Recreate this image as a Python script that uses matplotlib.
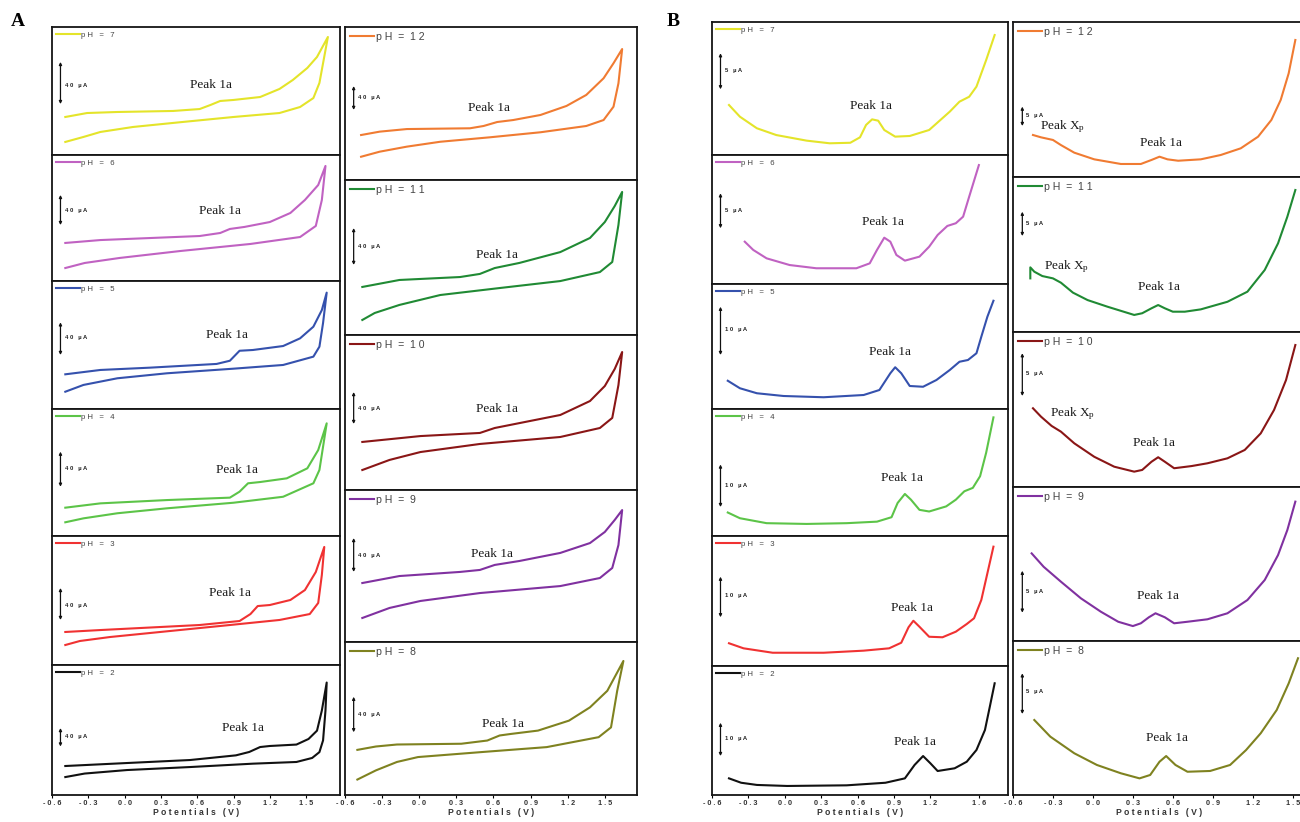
import matplotlib
matplotlib.use("Agg")
import matplotlib.pyplot as plt

W, H, DPI = 1300, 822, 100

# ------------------------------------------------------------------ data
# potential (V) and current (percent of each panel's vertical span)
# Panel A (cyclic voltammograms: forward branch then reverse branch)
A7_v = [-0.49, -0.31, -0.06, 0.40, 0.62, 0.71, 0.79, 0.90, 1.12, 1.28, 1.39, 1.51, 1.59, 1.68,
        1.61, 1.56, 1.45, 1.28, 0.90, 0.48, 0.07, -0.20, -0.34, -0.49]
A7_i = [29.7, 32.8, 33.6, 34.4, 35.9, 39.1, 42.2, 43.0, 45.3, 51.6, 58.6, 68.0, 76.6, 92.2,
        56.3, 44.5, 37.5, 32.8, 29.7, 25.8, 21.9, 18.0, 14.1, 10.2]
A6_v = [-0.49, -0.20, 0.21, 0.62, 0.79, 0.87, 0.99, 1.20, 1.37, 1.49, 1.60, 1.66,
        1.63, 1.58, 1.45, 1.04, 0.46, -0.04, -0.33, -0.49]
A6_i = [30.2, 32.5, 34.1, 35.7, 38.1, 41.3, 42.9, 46.8, 54.0, 64.3, 76.2, 91.3,
        64.3, 43.7, 34.9, 29.4, 23.8, 18.3, 14.3, 10.3]
A5_v = [-0.49, -0.20, 0.21, 0.76, 0.87, 0.95, 1.06, 1.31, 1.45, 1.56, 1.63, 1.67,
        1.64, 1.61, 1.56, 1.31, 0.90, 0.35, -0.06, -0.34, -0.49]
A5_i = [27.1, 30.5, 32.3, 35.2, 37.7, 45.5, 46.1, 49.2, 55.2, 64.3, 77.3, 90.9,
        67.2, 48.7, 40.9, 34.4, 31.5, 27.9, 24.0, 18.8, 13.5]
A4_v = [-0.49, -0.20, 0.35, 0.87, 0.95, 1.02, 1.12, 1.34, 1.51, 1.60, 1.67,
        1.64, 1.61, 1.56, 1.31, 0.90, 0.35, -0.06, -0.34, -0.49]
A4_i = [22.3, 25.7, 28.3, 30.2, 34.9, 41.5, 42.5, 45.4, 53.3, 67.7, 88.7,
        70.3, 52.0, 41.5, 30.9, 26.2, 21.8, 17.9, 13.9, 10.8]
A3_v = [-0.49, -0.20, 0.62, 0.95, 1.04, 1.10, 1.20, 1.37, 1.49, 1.58, 1.65,
        1.63, 1.60, 1.53, 1.28, 0.87, 0.38, -0.12, -0.37, -0.49]
A3_i = [25.6, 27.1, 31.0, 34.1, 39.5, 45.7, 46.5, 50.4, 58.1, 72.1, 91.5,
        69.8, 48.1, 39.5, 34.9, 31.0, 26.4, 21.7, 18.6, 15.5]
A2_v = [-0.49, 0.02, 0.54, 0.92, 1.03, 1.12, 1.20, 1.42, 1.52, 1.59, 1.63, 1.67,
        1.66, 1.64, 1.61, 1.55, 1.42, 1.06, 0.54, 0.02, -0.33, -0.49]
A2_i = [22.3, 24.6, 26.9, 30.5, 33.1, 36.9, 37.7, 38.8, 43.1, 49.5, 65.0, 86.5,
        65.0, 42.0, 33.0, 28.5, 25.4, 24.1, 21.5, 19.2, 16.5, 13.8]
A12_v = [-0.47, -0.32, -0.10, 0.41, 0.52, 0.63, 0.76, 0.98, 1.19, 1.35, 1.49, 1.57, 1.64,
         1.61, 1.57, 1.49, 1.35, 0.98, 0.57, 0.17, -0.10, -0.32, -0.47]
A12_i = [29.4, 31.6, 33.3, 33.8, 35.3, 37.9, 39.2, 42.5, 48.4, 55.6, 66.5, 76.3, 85.6,
         63.2, 47.9, 39.2, 35.3, 31.2, 27.9, 25.0, 21.8, 18.5, 15.2]
A11_v = [-0.46, -0.16, 0.33, 0.49, 0.61, 0.81, 1.14, 1.38, 1.50, 1.58, 1.64,
         1.61, 1.56, 1.46, 1.14, 0.65, 0.17, -0.16, -0.36, -0.46]
A11_i = [31.0, 35.5, 37.4, 39.4, 43.2, 46.5, 53.5, 62.6, 72.9, 83.2, 92.3,
         71.0, 47.1, 40.6, 34.8, 30.3, 25.8, 19.4, 14.2, 9.7]
A10_v = [-0.46, 0.01, 0.49, 0.61, 0.73, 1.14, 1.38, 1.50, 1.58, 1.64,
         1.61, 1.56, 1.46, 1.14, 0.49, 0.01, -0.24, -0.46]
A10_i = [31.0, 34.8, 36.8, 40.0, 41.9, 48.4, 57.4, 67.1, 78.1, 89.0,
         67.7, 46.5, 40.0, 34.2, 29.7, 24.5, 19.4, 12.9]
A9_v = [-0.46, -0.16, 0.33, 0.49, 0.61, 0.81, 1.14, 1.38, 1.50, 1.58, 1.64,
        1.61, 1.56, 1.46, 1.14, 0.49, 0.01, -0.24, -0.46]
A9_i = [38.8, 43.4, 46.1, 47.4, 50.7, 53.3, 58.6, 65.1, 72.4, 80.3, 86.8,
        63.8, 48.7, 42.1, 36.8, 32.2, 27.0, 22.4, 15.8]
A8_v = [-0.50, -0.35, -0.18, 0.34, 0.55, 0.65, 0.74, 0.96, 1.21, 1.38, 1.52, 1.65,
        1.60, 1.55, 1.45, 1.03, 0.51, -0.01, -0.18, -0.35, -0.50]
A8_i = [29.5, 31.7, 33.0, 33.5, 35.6, 38.9, 39.9, 42.1, 48.6, 57.3, 68.1, 87.6,
        68.1, 44.2, 37.8, 31.3, 28.1, 24.8, 21.6, 16.1, 10.1]

# Panel B (differential pulse voltammograms)
B7_v = [-0.46, -0.37, -0.23, -0.07, 0.18, 0.37, 0.54, 0.62, 0.67, 0.72, 0.77, 0.82, 0.91,
        1.03, 1.19, 1.36, 1.44, 1.52, 1.58, 1.66, 1.73]
B7_i = [37.6, 28.8, 20.1, 15.0, 10.8, 8.8, 9.2, 13.3, 22.6, 26.8, 25.8, 18.8, 13.8,
        14.3, 18.8, 32.6, 40.1, 43.8, 51.4, 71.4, 90.2]
B6_v = [-0.33, -0.26, -0.15, 0.04, 0.26, 0.59, 0.70, 0.76, 0.82, 0.87, 0.92, 0.99, 1.11,
        1.19, 1.26, 1.34, 1.41, 1.47, 1.52, 1.60]
B6_i = [32.8, 26.4, 19.9, 14.7, 12.2, 12.2, 16.0, 26.4, 35.9, 32.8, 22.5, 18.1, 21.2,
        28.9, 38.0, 45.0, 47.1, 52.2, 67.7, 92.2]
B5_v = [-0.47, -0.37, -0.23, -0.01, 0.32, 0.65, 0.78, 0.87, 0.91, 0.96, 1.03, 1.14, 1.25,
        1.36, 1.44, 1.51, 1.58, 1.62, 1.67, 1.72]
B5_i = [22.6, 16.6, 12.6, 10.4, 9.4, 11.2, 15.2, 28.6, 33.4, 28.6, 18.4, 17.8, 23.2,
        31.2, 37.8, 39.2, 44.6, 57.8, 73.8, 86.6]
B4_v = [-0.47, -0.37, -0.15, 0.18, 0.51, 0.76, 0.88, 0.93, 0.99, 1.04, 1.11, 1.19, 1.33,
        1.41, 1.48, 1.55, 1.61, 1.66, 1.72]
B4_i = [18.5, 14.0, 10.1, 9.5, 10.1, 11.3, 14.8, 26.0, 33.1, 28.6, 20.6, 19.3, 23.3,
        28.6, 35.2, 37.9, 47.1, 65.6, 93.4]
B3_v = [-0.46, -0.34, -0.10, 0.32, 0.65, 0.86, 0.96, 1.02, 1.06, 1.11, 1.19, 1.30, 1.41,
        1.50, 1.56, 1.62, 1.67, 1.72]
B3_i = [17.5, 13.6, 10.2, 10.2, 11.8, 13.6, 17.9, 29.8, 34.8, 30.2, 22.5, 22.1, 26.4,
        32.3, 36.7, 50.8, 71.3, 91.8]
B2_v = [-0.46, -0.36, -0.23, 0.02, 0.51, 0.83, 0.99, 1.07, 1.14, 1.20, 1.26, 1.40, 1.50,
        1.58, 1.65, 1.69, 1.73]
B2_i = [12.9, 9.5, 7.8, 7.0, 7.5, 9.5, 12.9, 23.3, 30.2, 24.6, 18.6, 20.7, 25.8,
        34.9, 50.4, 68.4, 86.6]
B12_v = [-0.45, -0.39, -0.30, -0.24, -0.14, 0.01, 0.21, 0.36, 0.44, 0.50, 0.56, 0.64, 0.81,
         0.96, 1.11, 1.24, 1.34, 1.41, 1.47, 1.52]
B12_i = [27.1, 25.6, 23.9, 20.6, 15.7, 11.4, 8.4, 8.4, 11.0, 13.1, 11.4, 10.5, 11.4,
         14.2, 18.5, 26.0, 36.8, 49.7, 66.9, 88.4]
B11_v = [-0.47, -0.47, -0.44, -0.38, -0.30, -0.24, -0.15, -0.04, 0.11, 0.31, 0.37, 0.44, 0.49,
         0.54, 0.60, 0.69, 0.81, 1.01, 1.16, 1.29, 1.39, 1.46, 1.52]
B11_i = [34.6, 41.7, 38.9, 36.1, 34.6, 31.8, 25.4, 20.6, 16.3, 11.0, 12.1, 15.3, 17.4,
         15.3, 13.1, 13.1, 14.6, 19.5, 26.0, 40.0, 57.2, 74.4, 91.6]
B10_v = [-0.45, -0.39, -0.31, -0.24, -0.14, 0.01, 0.16, 0.31, 0.37, 0.44, 0.49, 0.54, 0.61,
         0.74, 0.86, 1.01, 1.14, 1.26, 1.36, 1.45, 1.52]
B10_i = [50.8, 45.4, 39.4, 35.7, 28.2, 19.5, 13.1, 9.9, 11.0, 16.3, 19.2, 16.3, 12.1,
         13.5, 15.3, 18.5, 23.9, 34.6, 49.7, 69.0, 91.6]
B9_v = [-0.46, -0.37, -0.24, -0.09, 0.06, 0.19, 0.30, 0.36, 0.42, 0.47, 0.54, 0.61, 0.71,
        0.86, 1.01, 1.16, 1.29, 1.39, 1.46, 1.52]
B9_i = [56.9, 48.2, 38.5, 27.7, 19.0, 12.5, 9.7, 11.5, 15.4, 18.0, 15.4, 11.5, 12.5,
        14.1, 18.0, 26.6, 39.6, 55.8, 72.1, 90.5]
B8_v = [-0.44, -0.32, -0.14, 0.03, 0.21, 0.35, 0.43, 0.50, 0.55, 0.62, 0.71, 0.88, 1.03,
        1.15, 1.26, 1.38, 1.47, 1.54]
B8_i = [48.7, 37.9, 27.1, 19.5, 14.1, 10.8, 13.0, 21.6, 25.3, 19.5, 15.1, 15.6, 19.5,
        29.2, 40.1, 55.2, 72.5, 88.8]

A_ticks = [-0.6, -0.3, 0.0, 0.3, 0.6, 0.9, 1.2, 1.5]
A_ticklabels = ["-0.6", "-0.3", "0.0", "0.3", "0.6", "0.9", "1.2", "1.5"]
BL_ticks = [-0.6, -0.3, 0.0, 0.3, 0.6, 0.9, 1.2, 1.6]
BL_ticklabels = ["-0.6", "-0.3", "0.0", "0.3", "0.6", "0.9", "1.2", "1.6"]
BR_ticks = [-0.6, -0.3, 0.0, 0.3, 0.6, 0.9, 1.2, 1.5]
BR_ticklabels = ["-0.6", "-0.3", "0.0", "0.3", "0.6", "0.9", "1.2", "1.5"]

# ------------------------------------------------------------------ style
plt.rcParams["font.family"] = ["Liberation Sans", "DejaVu Sans"]
plt.rcParams["mathtext.fontset"] = "custom"
plt.rcParams["mathtext.rm"] = "Liberation Serif"
plt.rcParams["mathtext.it"] = "Liberation Serif:italic"

fig = plt.figure(figsize=(W / DPI, H / DPI), dpi=DPI)
fig.patch.set_facecolor("white")

SERIF = "Liberation Serif"


def spaced(s):
    return " ".join(s)


def panel(box, xlim, v, i, color, ph, small, peak, bar, bar_label,
          xp=None, bottom=False, ticks=None, ticklabels=None):
    x0, x1, y0, y1 = box
    ax = fig.add_axes([x0 / W, 1 - y1 / H, (x1 - x0) / W, (y1 - y0) / H])
    ax.set_xlim(*xlim)
    ax.set_ylim(0, 100)
    ax.set_yticks([])
    for s in ax.spines.values():
        s.set_linewidth(1.3)
        s.set_color("#151515")
    if small:
        lab = "p H   =   " + "  ".join(ph)
        leg_fs, hl, pad = 5.6, 3.0, 0.55
    else:
        lab = "p H  =  " + " ".join(ph)
        leg_fs, hl, pad = 7.6, 2.3, 0.45
    ax.plot(v, i, color=color, lw=1.5, solid_joinstyle="round", label=lab)
    leg = ax.legend(loc="upper left", frameon=False, fontsize=leg_fs,
                    handlelength=hl, handletextpad=0.15, borderaxespad=pad,
                    borderpad=0.0)
    for t in leg.get_texts():
        t.set_color("#444444")
    # peak label(s)
    ax.text(peak[0], peak[1], "Peak 1a", family=SERIF, fontsize=9.5,
            ha="center", va="center", color="#1a1a1a")
    if xp is not None:
        ax.text(xp[0], xp[1], r"Peak X$_{\mathrm{p}}$", family=SERIF, fontsize=9.5,
                ha="center", va="center", color="#1a1a1a")
    # scale bar
    bx, btop, bbot, bly = bar
    ax.annotate("", xy=(bx, bbot), xytext=(bx, btop),
                arrowprops=dict(arrowstyle="<|-|>", lw=0.9, color="#111111",
                                mutation_scale=4, shrinkA=0, shrinkB=0))
    ax.annotate(spaced(bar_label), xy=(bx, bly), xytext=(3, 0),
                textcoords="offset points", fontsize=4.2, fontweight="bold",
                va="center", ha="left", color="#222222")
    if bottom:
        ax.set_xticks(ticks)
        ax.set_xticklabels([spaced(t) for t in ticklabels], fontsize=5.2,
                           fontweight="bold", color="#333333")
        ax.tick_params(axis="x", direction="out", length=2, width=0.8, pad=1.5)
        ax.set_xlabel(spaced("Potentials") + "   " + spaced("(V)"), fontsize=6.2,
                      fontweight="bold", color="#333333", labelpad=0.5)
    else:
        ax.set_xticks([])
    return ax


AL = (-0.6, 1.78)
AR = (-0.6, 1.76)
BL = (-0.6, 1.84)
BR = (-0.6, 1.60)

# ---- Panel A, left column
panel((52, 340, 27, 155), AL, A7_v, A7_i, "#e4e42a", "7", True, (0.71, 54.7), (-0.53, 72.7, 39.8, 54), "40 µA")
panel((52, 340, 155, 281), AL, A6_v, A6_i, "#c062c2", "6", True, (0.79, 55.6), (-0.53, 68.3, 44.4, 56), "40 µA")
panel((52, 340, 281, 409), AL, A5_v, A5_i, "#3551ad", "5", True, (0.85, 57.8), (-0.53, 67.7, 42.2, 55.5), "40 µA")
panel((52, 340, 409, 536), AL, A4_v, A4_i, "#5cc448", "4", True, (0.93, 52.0), (-0.53, 66.4, 38.8, 53.5), "40 µA")
panel((52, 340, 536, 665), AL, A3_v, A3_i, "#f03232", "3", True, (0.87, 55.8), (-0.53, 59.7, 34.9, 46.5), "40 µA")
panel((52, 340, 665, 795), AL, A2_v, A2_i, "#111111", "2", True, (0.98, 51.5), (-0.53, 51.5, 37.3, 45), "40 µA",
      bottom=True, ticks=A_ticks, ticklabels=A_ticklabels)

# ---- Panel A, right column
panel((345, 637, 27, 180), AR, A12_v, A12_i, "#f07b32", "12", False, (0.56, 46.9), (-0.53, 61.4, 45.8, 54), "40 µA")
panel((345, 637, 180, 335), AR, A11_v, A11_i, "#208a34", "11", False, (0.63, 51.6), (-0.53, 69.0, 45.2, 56.8), "40 µA")
panel((345, 637, 335, 490), AR, A10_v, A10_i, "#8a1616", "10", False, (0.63, 52.3), (-0.53, 63.2, 42.6, 52.9), "40 µA")
panel((345, 637, 490, 642), AR, A9_v, A9_i, "#8031a0", "9", False, (0.59, 57.9), (-0.53, 68.4, 46.1, 57.2), "40 µA")
panel((345, 637, 642, 795), AR, A8_v, A8_i, "#7f8220", "8", False, (0.68, 46.4), (-0.53, 64.2, 41.0, 52.5), "40 µA",
      bottom=True, ticks=A_ticks, ticklabels=A_ticklabels)

# ---- Panel B, left column
panel((712, 1008, 22, 155), BL, B7_v, B7_i, "#e4e42a", "7", True, (0.71, 36.8), (-0.53, 76.5, 49.4, 63.4), "5 µA")
panel((712, 1008, 155, 284), BL, B6_v, B6_i, "#c062c2", "6", True, (0.81, 48.3), (-0.53, 70.3, 43.2, 56.8), "5 µA")
panel((712, 1008, 284, 409), BL, B5_v, B5_i, "#3551ad", "5", True, (0.87, 45.8), (-0.53, 81.8, 43.2, 64), "10 µA")
panel((712, 1008, 409, 536), BL, B4_v, B4_i, "#5cc448", "4", True, (0.97, 45.8), (-0.53, 56.3, 22.8, 39.7), "10 µA")
panel((712, 1008, 536, 666), BL, B3_v, B3_i, "#f03232", "3", True, (1.05, 44.4), (-0.53, 68.7, 37.5, 54.6), "10 µA")
panel((712, 1008, 666, 795), BL, B2_v, B2_i, "#111111", "2", True, (1.07, 41.3), (-0.53, 56.0, 30.2, 44), "10 µA",
      bottom=True, ticks=BL_ticks, ticklabels=BL_ticklabels)

# ---- Panel B, right column (extends past the right edge of the figure)
panel((1013, 1306, 22, 177), BR, B12_v, B12_i, "#f07b32", "12", False, (0.51, 22.1), (-0.53, 45.4, 32.9, 39.4), "5 µA",
      xp=(-0.23, 32.5))
panel((1013, 1306, 177, 332), BR, B11_v, B11_i, "#208a34", "11", False, (0.50, 29.2), (-0.53, 77.6, 61.9, 70.1), "5 µA",
      xp=(-0.20, 42.1))
panel((1013, 1306, 332, 487), BR, B10_v, B10_i, "#8a1616", "10", False, (0.46, 28.6), (-0.53, 86.3, 58.7, 73.4), "5 µA",
      xp=(-0.15, 47.5))
panel((1013, 1306, 487, 641), BR, B9_v, B9_i, "#8031a0", "9", False, (0.49, 29.2), (-0.53, 45.6, 18.4, 32), "5 µA")
panel((1013, 1306, 641, 795), BR, B8_v, B8_i, "#7f8220", "8", False, (0.56, 36.8), (-0.53, 79.0, 52.6, 67.1), "5 µA",
      bottom=True, ticks=BR_ticks, ticklabels=BR_ticklabels)

fig.text(18 / W, 1 - 22 / H, "A", family=SERIF, fontweight="bold", fontsize=14,
         ha="center", va="center")
fig.text(673 / W, 1 - 22 / H, "B", family=SERIF, fontweight="bold", fontsize=14,
         ha="center", va="center")

fig.savefig("out.png", dpi=DPI, facecolor="white")
